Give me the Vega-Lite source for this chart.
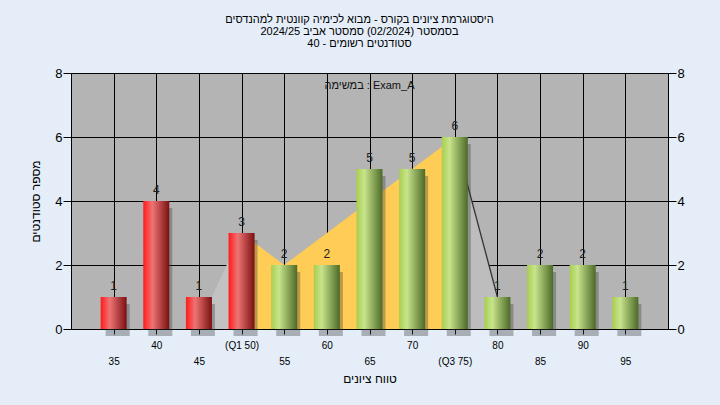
{
  "$schema": "https://vega.github.io/schema/vega-lite/v6.json",
  "width": 597,
  "height": 256,
  "autosize": {"type": "none"},
  "padding": {"left": 71, "top": 73, "right": 52, "bottom": 76},
  "background": "#e4edf8",
  "title": {
    "text": ["היסטוגרמת ציונים בקורס - מבוא לכימיה קוונטית למהנדסים", "בסמסטר  (02/2024)  סמסטר אביב 2024/25", "סטודנטים רשומים - 40"],
    "fontSize": 11,
    "fontWeight": "normal",
    "font": "Liberation Sans",
    "color": "#000000",
    "anchor": "middle",
    "lineHeight": 12,
    "offset": 18,
    "dx": -10
  },
  "config": {
    "view": {"fill": "#b4b4b4", "stroke": null},
    "font": "Liberation Sans"
  },
  "datasets": {
    "bars": [
      {"score": 35, "count": 1, "zone": "low"},
      {"score": 40, "count": 4, "zone": "low"},
      {"score": 45, "count": 1, "zone": "low"},
      {"score": 50, "count": 3, "zone": "low"},
      {"score": 55, "count": 2, "zone": "high"},
      {"score": 60, "count": 2, "zone": "high"},
      {"score": 65, "count": 5, "zone": "high"},
      {"score": 70, "count": 5, "zone": "high"},
      {"score": 75, "count": 6, "zone": "high"},
      {"score": 80, "count": 1, "zone": "high"},
      {"score": 85, "count": 2, "zone": "high"},
      {"score": 90, "count": 2, "zone": "high"},
      {"score": 95, "count": 1, "zone": "high"}
    ],
    "iqr": [
      {"score": 50, "count": 3},
      {"score": 55, "count": 2},
      {"score": 75, "count": 6}
    ],
    "lefttail": [
      {"score": 46.5, "count": 1},
      {"score": 50, "count": 3}
    ],
    "righttail": [
      {"score": 75, "count": 6},
      {"score": 80, "count": 1}
    ]
  },
  "resolve": {"axis": {"y": "independent"}},
  "layer": [
    {
      "data": {"name": "lefttail"},
      "mark": {"type": "area", "color": "#c2c2c2"},
      "encoding": {
        "x": {
          "field": "score", "type": "quantitative",
          "scale": {"domain": [30, 100], "nice": false, "zero": false, "padding": 0},
          "axis": {
            "values": [35, 40, 45, 50, 55, 60, 65, 70, 75, 80, 85, 90, 95],
            "grid": true, "gridColor": "#000000", "gridOpacity": 1, "gridWidth": 1,
            "domain": true, "domainColor": "#000000",
            "ticks": true, "tickColor": "#000000", "tickSize": 5,
            "labelFontSize": 10, "labelColor": "#000000", "labelPadding": 6,
            "labelLineHeight": 16, "labelFlush": false, "labelOverlap": false,
            "labelExpr": "(datum.value/5)%2==1 ? ['', datum.value==75 ? '(Q3 75)' : ''+datum.value] : (datum.value==50 ? '(Q1 50)' : ''+datum.value)",
            "title": "טווח ציונים", "titleFontSize": 12, "titleFontWeight": "normal", "titleColor": "#000000", "titlePadding": 7
          }
        },
        "y": {
          "field": "count", "type": "quantitative",
          "scale": {"domain": [0, 8], "nice": false, "padding": 0},
          "axis": {
            "orient": "left",
            "values": [0, 2, 4, 6, 8],
            "grid": true, "gridColor": "#000000", "gridOpacity": 1, "gridWidth": 1,
            "domain": true, "domainColor": "#000000",
            "ticks": true, "tickColor": "#000000", "tickSize": 8,
            "labelFontSize": 13, "labelColor": "#000000", "labelPadding": 1,
            "title": "מספר סטודנטים", "titleFontSize": 12, "titleFontWeight": "normal", "titleColor": "#000000", "titlePadding": 12
          }
        }
      }
    },
    {
      "data": {"name": "iqr"},
      "mark": {"type": "area", "color": "#ffcc55"},
      "encoding": {
        "x": {"field": "score", "type": "quantitative"},
        "y": {
          "field": "count", "type": "quantitative",
          "axis": {
            "orient": "right",
            "values": [0, 2, 4, 6, 8],
            "grid": false,
            "domain": true, "domainColor": "#000000",
            "ticks": true, "tickColor": "#000000", "tickSize": 8,
            "labelFontSize": 13, "labelColor": "#000000", "labelPadding": 1,
            "title": null
          }
        }
      }
    },
    {
      "data": {"name": "righttail"},
      "mark": {"type": "area", "color": "#bdbdbd"},
      "encoding": {
        "x": {"field": "score", "type": "quantitative"},
        "y": {"field": "count", "type": "quantitative", "axis": null}
      }
    },
    {
      "data": {"name": "righttail"},
      "mark": {"type": "line", "color": "#333333", "strokeWidth": 1.3},
      "encoding": {
        "x": {"field": "score", "type": "quantitative"},
        "y": {"field": "count", "type": "quantitative", "axis": null}
      }
    },
    {
      "data": {"name": "bars"},
      "mark": {"type": "bar", "width": 24, "color": "#3a3a3a", "opacity": 0.35, "xOffset": 4, "yOffset": 7, "y2Offset": 1},
      "encoding": {
        "x": {"field": "score", "type": "quantitative"},
        "y": {"field": "count", "type": "quantitative", "axis": null}
      }
    },
    {
      "data": {"name": "bars"},
      "transform": [{"filter": "datum.zone == 'low'"}],
      "mark": {
        "type": "bar", "width": 26,
        "fill": {"gradient": "linear", "x1": 0, "y1": 0, "x2": 1, "y2": 0,
          "stops": [
            {"offset": 0, "color": "#ff1a1a"},
            {"offset": 0.35, "color": "#ee7474"},
            {"offset": 1, "color": "#7a1010"}
          ]}
      },
      "encoding": {
        "x": {"field": "score", "type": "quantitative"},
        "y": {"field": "count", "type": "quantitative", "axis": null}
      }
    },
    {
      "data": {"name": "bars"},
      "transform": [{"filter": "datum.zone == 'high'"}],
      "mark": {
        "type": "bar", "width": 26,
        "fill": {"gradient": "linear", "x1": 0, "y1": 0, "x2": 1, "y2": 0,
          "stops": [
            {"offset": 0, "color": "#a6cf4e"},
            {"offset": 0.3, "color": "#c8e48c"},
            {"offset": 1, "color": "#4c6a28"}
          ]}
      },
      "encoding": {
        "x": {"field": "score", "type": "quantitative"},
        "y": {"field": "count", "type": "quantitative", "axis": null}
      }
    },
    {
      "data": {"name": "bars"},
      "mark": {"type": "text", "baseline": "bottom", "dy": -4, "fontSize": 12, "color": "#222222"},
      "encoding": {
        "x": {"field": "score", "type": "quantitative"},
        "y": {"field": "count", "type": "quantitative", "axis": null},
        "text": {"field": "count", "type": "quantitative"}
      }
    },
    {
      "data": {"values": [{"label": "במשימה : Exam_A"}]},
      "mark": {"type": "text", "baseline": "middle", "fontSize": 11, "color": "#111111"},
      "encoding": {
        "x": {"datum": 65, "type": "quantitative"},
        "y": {"datum": 7.6, "type": "quantitative", "axis": null},
        "text": {"field": "label"}
      }
    }
  ]
}
